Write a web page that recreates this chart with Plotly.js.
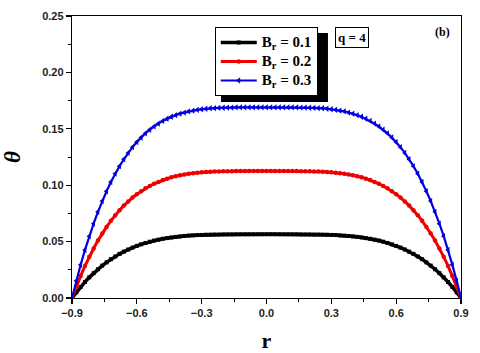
<!DOCTYPE html>
<html>
<head>
<meta charset="utf-8">
<script src="https://cdn.plot.ly/plotly-3.0.1.min.js"></script>
<style>
  html, body { margin: 0; padding: 0; background: #ffffff; }
  #chart { width: 480px; height: 353px; }
</style>
</head>
<body>
<div id="chart"></div>
<script>
// radial coordinate r
let rVals = [-0.90, -0.88, -0.86, -0.84, -0.82, -0.80, -0.78, -0.76, -0.74, -0.72,
    -0.70, -0.68, -0.66, -0.64, -0.62, -0.60, -0.58, -0.56, -0.54, -0.52,
    -0.50, -0.48, -0.46, -0.44, -0.42, -0.40, -0.38, -0.36, -0.34, -0.32,
    -0.30, -0.28, -0.26, -0.24, -0.22, -0.20, -0.18, -0.16, -0.14, -0.12,
    -0.10, -0.08, -0.06, -0.04, -0.02, 0.00, 0.02, 0.04, 0.06, 0.08,
    0.10, 0.12, 0.14, 0.16, 0.18, 0.20, 0.22, 0.24, 0.26, 0.28,
    0.30, 0.32, 0.34, 0.36, 0.38, 0.40, 0.42, 0.44, 0.46, 0.48,
    0.50, 0.52, 0.54, 0.56, 0.58, 0.60, 0.62, 0.64, 0.66, 0.68,
    0.70, 0.72, 0.74, 0.76, 0.78, 0.80, 0.82, 0.84, 0.86, 0.88, 0.90];

// theta for Br = 0.1
let thetaBr1 = [0, 0.0051, 0.0098, 0.0142, 0.0183, 0.0220, 0.0255, 0.0287, 0.0316, 0.0344,
    0.0368, 0.0391, 0.0411, 0.0430, 0.0447, 0.0462, 0.0476, 0.0488, 0.0499, 0.0509,
    0.0517, 0.0525, 0.0531, 0.0537, 0.0542, 0.0546, 0.0550, 0.0553, 0.0555, 0.0558,
    0.0559, 0.0561, 0.0562, 0.0563, 0.0563, 0.0564, 0.0564, 0.0564, 0.0565, 0.0565,
    0.0565, 0.0565, 0.0565, 0.0565, 0.0565, 0.0565, 0.0565, 0.0565, 0.0565, 0.0565,
    0.0565, 0.0565, 0.0565, 0.0564, 0.0564, 0.0564, 0.0563, 0.0563, 0.0562, 0.0561,
    0.0559, 0.0558, 0.0555, 0.0553, 0.0550, 0.0546, 0.0542, 0.0537, 0.0531, 0.0525,
    0.0517, 0.0509, 0.0499, 0.0488, 0.0476, 0.0462, 0.0447, 0.0430, 0.0411, 0.0391,
    0.0368, 0.0344, 0.0316, 0.0287, 0.0255, 0.0220, 0.0183, 0.0142, 0.0098, 0.0051, 0];

// theta for Br = 0.2
let thetaBr2 = [0, 0.0101, 0.0196, 0.0284, 0.0365, 0.0439, 0.0509, 0.0572, 0.0630, 0.0684,
    0.0734, 0.0779, 0.0819, 0.0856, 0.0890, 0.0920, 0.0947, 0.0972, 0.0993, 0.1013,
    0.1029, 0.1045, 0.1058, 0.1070, 0.1079, 0.1088, 0.1095, 0.1101, 0.1106, 0.1110,
    0.1114, 0.1117, 0.1119, 0.1121, 0.1122, 0.1123, 0.1124, 0.1124, 0.1125, 0.1125,
    0.1125, 0.1125, 0.1125, 0.1125, 0.1125, 0.1125, 0.1125, 0.1125, 0.1125, 0.1125,
    0.1125, 0.1125, 0.1125, 0.1124, 0.1124, 0.1123, 0.1122, 0.1121, 0.1119, 0.1117,
    0.1114, 0.1110, 0.1106, 0.1101, 0.1095, 0.1088, 0.1079, 0.1070, 0.1058, 0.1045,
    0.1029, 0.1013, 0.0993, 0.0972, 0.0947, 0.0920, 0.0890, 0.0856, 0.0819, 0.0779,
    0.0734, 0.0684, 0.0630, 0.0572, 0.0509, 0.0439, 0.0365, 0.0284, 0.0196, 0.0101, 0];

// theta for Br = 0.3
let thetaBr3 = [0, 0.0152, 0.0294, 0.0426, 0.0548, 0.0659, 0.0764, 0.0859, 0.0946, 0.1028,
    0.1102, 0.1169, 0.1230, 0.1286, 0.1337, 0.1382, 0.1423, 0.1460, 0.1492, 0.1521,
    0.1546, 0.1570, 0.1589, 0.1607, 0.1621, 0.1634, 0.1644, 0.1655, 0.1661, 0.1668,
    0.1673, 0.1678, 0.1682, 0.1683, 0.1685, 0.1687, 0.1688, 0.1688, 0.1690, 0.1690,
    0.1690, 0.1690, 0.1690, 0.1690, 0.1690, 0.1690, 0.1690, 0.1690, 0.1690, 0.1690,
    0.1690, 0.1690, 0.1690, 0.1688, 0.1688, 0.1687, 0.1685, 0.1683, 0.1682, 0.1678,
    0.1673, 0.1668, 0.1661, 0.1655, 0.1644, 0.1634, 0.1621, 0.1607, 0.1589, 0.1570,
    0.1546, 0.1521, 0.1492, 0.1460, 0.1423, 0.1382, 0.1337, 0.1286, 0.1230, 0.1169,
    0.1102, 0.1028, 0.0946, 0.0859, 0.0764, 0.0659, 0.0548, 0.0426, 0.0294, 0.0152, 0];

let seriesNames = ['B<sub>r</sub> = 0.1', 'B<sub>r</sub> = 0.2', 'B<sub>r</sub> = 0.3'];
let xTicks = [-0.9, -0.6, -0.3, 0.0, 0.3, 0.6, 0.9];
let yTicks = [0.00, 0.05, 0.10, 0.15, 0.20, 0.25];

let tickFont = { family: 'Liberation Sans, Arial, sans-serif', size: 11, color: '#222222', weight: 'bold' };

// legend rows are spaced by the small legend font; the label itself is drawn larger
function legendLabel(s) {
    return '<span style="font-size:15px"><b>' + s + '</b></span>';
}

let data = [{
    x: rVals,
    y: thetaBr1,
    name: legendLabel(seriesNames[0]),
    mode: 'lines+markers',
    line: { color: '#000000', width: 3.5 },
    marker: { symbol: 'square', size: 4, color: '#000000' },
}, {
    x: rVals,
    y: thetaBr2,
    name: legendLabel(seriesNames[1]),
    mode: 'lines+markers',
    line: { color: '#ee0000', width: 3 },
    marker: { symbol: 'circle', size: 4.5, color: '#ee0000' },
}, {
    x: rVals,
    y: thetaBr3,
    name: legendLabel(seriesNames[2]),
    mode: 'lines+markers',
    line: { color: '#0000dd', width: 2.2 },
    marker: { symbol: 'triangle-left', size: 5.5, color: '#0000dd' },
},];

let layout = {
    width: 480,
    height: 353,
    margin: { l: 72, r: 19, t: 16, b: 55, pad: 0 },
    paper_bgcolor: '#ffffff',
    plot_bgcolor: '#ffffff',
    showlegend: true,
    xaxis: {
        range: [-0.9, 0.9],
        tickvals: xTicks,
        tickformat: '.1f',
        showgrid: false,
        zeroline: false,
        showline: true,
        mirror: true,
        linecolor: '#000000',
        linewidth: 1.2,
        ticks: 'outside',
        ticklen: 5,
        tickwidth: 1.2,
        tickcolor: '#000000',
        minor: { ticks: 'outside', dtick: 0.15, ticklen: 3, tickcolor: '#000000', tickwidth: 1 },
        tickfont: tickFont,
        title: {
            text: '<b>r</b>',
            font: { family: 'Liberation Serif, Times New Roman, serif', size: 22, color: '#000000' },
            standoff: 14,
        },
    },
    yaxis: {
        range: [0, 0.25],
        tickvals: yTicks,
        tickformat: '.2f',
        showgrid: false,
        zeroline: false,
        showline: true,
        mirror: true,
        linecolor: '#000000',
        linewidth: 1.2,
        ticks: 'outside',
        ticklen: 5,
        tickwidth: 1.2,
        tickcolor: '#000000',
        minor: { ticks: 'outside', dtick: 0.025, ticklen: 3, tickcolor: '#000000', tickwidth: 1 },
        tickfont: tickFont,
        title: {
            text: '<b><i>θ</i></b>',
            font: { family: 'Liberation Serif, Times New Roman, serif', size: 23, color: '#000000' },
            standoff: 16,
        },
    },
    legend: {
        x: 0.367,
        y: 0.961,
        xanchor: 'left',
        yanchor: 'top',
        bgcolor: '#ffffff',
        bordercolor: '#000000',
        borderwidth: 1,
        font: { family: 'Liberation Serif, Times New Roman, serif', size: 11.5, color: '#000000' },
        tracegroupgap: 0,
        itemwidth: 36,
    },
    shapes: [{ // legend shadow
        type: 'rect',
        xref: 'paper', yref: 'paper',
        x0: 0.383, x1: 0.658, y0: 0.695, y1: 0.94,
        fillcolor: '#000000',
        line: { width: 0 },
        layer: 'above',
    },],
    annotations: [{
        text: '<b>q = 4</b>',
        xref: 'paper', yref: 'paper',
        x: 0.675, y: 0.96,
        xanchor: 'left', yanchor: 'top',
        showarrow: false,
        bordercolor: '#000000',
        borderwidth: 1,
        borderpad: 2,
        bgcolor: '#ffffff',
        font: { family: 'Liberation Serif, Times New Roman, serif', size: 13, color: '#000000' },
    }, {
        text: '<b>(b)</b>',
        xref: 'paper', yref: 'paper',
        x: 0.978, y: 0.975,
        xanchor: 'right', yanchor: 'top',
        showarrow: false,
        font: { family: 'Liberation Serif, Times New Roman, serif', size: 12, color: '#000000' },
    },],
};

let config = {
    staticPlot: true,
    displayModeBar: false,
};

Plotly.newPlot('chart', data, layout, config);
</script>
</body>
</html>
